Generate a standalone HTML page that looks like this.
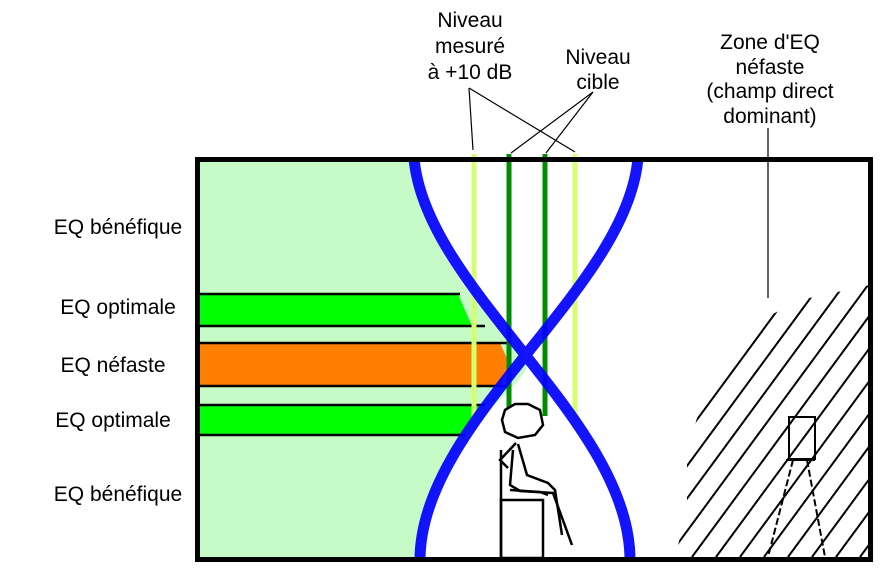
<!DOCTYPE html>
<html><head><meta charset="utf-8"><style>
body{margin:0;background:#fff}
svg{display:block}
text{font-family:"Liberation Sans",sans-serif;font-size:21px;fill:#000}
</style></head><body>
<svg width="891" height="585" viewBox="0 0 891 585" xmlns="http://www.w3.org/2000/svg">
<defs>
<clipPath id="hc"><polygon points="700,408 767,317 800,300 870,285 870,557 675,557 687,510 687,452"/></clipPath>
</defs>
<path d="M196,158 L414,158 C425,280 525,340 527,365 C525,390 425,440 420,560 L196,560 Z" fill="#c6fac6"/>
<polygon points="196,294 458,294 472,326 196,326" fill="#00ff00"/>
<polygon points="196,343 500,343 510,365 500,386 196,386" fill="#ff8000"/>
<polygon points="196,405 480,405 462,435 196,435" fill="#00ff00"/>
<g stroke="#000" stroke-width="2.5">
<line x1="196" y1="294" x2="460" y2="294"/>
<line x1="196" y1="326" x2="485" y2="326"/>
<line x1="196" y1="343" x2="510" y2="343"/>
<line x1="196" y1="386" x2="510" y2="386"/>
<line x1="196" y1="405" x2="485" y2="405"/>
<line x1="196" y1="435" x2="465" y2="435"/>
</g>
<g stroke-width="5">
<line x1="474" y1="154" x2="474" y2="420" stroke="#d4ff70"/>
<line x1="575" y1="154" x2="575" y2="420" stroke="#d4ff70"/>
<line x1="509" y1="154" x2="509" y2="423" stroke="#008c00"/>
<line x1="545" y1="154" x2="545" y2="416" stroke="#008c00"/>
</g>
<g fill="none" stroke="#0000ff" stroke-width="11" opacity="0.92">
<path d="M414,158 C425,290 630,420 630,560"/>
<path d="M638,158 C627,290 420,420 420,560"/>
</g>
<g fill="none" stroke="#000" stroke-width="2.5">
<polygon points="505,410 515,404 528,404 540,410 543,425 535,435 518,438 505,432 502,420" fill="#fff"/>
<polyline points="516,443 500,460 508,468"/>
<polyline points="518,444 527,475 548,483 555,490 562,535"/>
<polyline points="513,450 510,485 520,491 553,493 572,545"/>
<polyline points="510,490 540,492 548,495"/>
<line x1="501" y1="450" x2="501" y2="558"/>
<rect x="501" y="500" width="42" height="58"/>
</g>
<g stroke="#000" stroke-width="2" clip-path="url(#hc)" id="hatch"></g>
<g fill="none" stroke="#000" stroke-width="2">
<rect x="789" y="417" width="26" height="42"/>
<line x1="786" y1="460" x2="815" y2="460"/>
<line x1="793" y1="460" x2="768" y2="557" stroke-dasharray="7,3"/>
<line x1="807" y1="460" x2="825" y2="557" stroke-dasharray="7,3"/>
</g>
<rect x="197.5" y="159.5" width="673" height="400" fill="none" stroke="#000" stroke-width="5"/>
<g stroke="#000" stroke-width="1.2">
<line x1="469" y1="88" x2="473" y2="150"/>
<line x1="469" y1="88" x2="575" y2="152"/>
<line x1="593" y1="92" x2="511" y2="153"/>
<line x1="593" y1="92" x2="546" y2="153"/>
<line x1="768" y1="128" x2="768" y2="298"/>
</g>
<g text-anchor="middle">
<text x="470" y="27">Niveau</text>
<text x="470" y="53">mesuré</text>
<text x="470" y="79">à +10 dB</text>
<text x="598" y="64">Niveau</text>
<text x="598" y="89">cible</text>
<text x="770" y="49">Zone d'EQ</text>
<text x="770" y="74">néfaste</text>
<text x="770" y="98">(champ direct</text>
<text x="770" y="123">dominant)</text>
<text x="118" y="234">EQ bénéfique</text>
<text x="118" y="314">EQ optimale</text>
<text x="113" y="372">EQ néfaste</text>
<text x="113" y="427">EQ optimale</text>
<text x="118" y="501">EQ bénéfique</text>
</g>
</svg>
<script>
var g=document.getElementById('hatch'),s='';
for(var c=500;c<=880;c+=24){
 var x1=c,y1=557,x2=c+300,y2=557-1.36*300;
 s+='<line x1="'+x1+'" y1="'+y1+'" x2="'+x2+'" y2="'+y2+'"/>';
}
g.innerHTML=s;
</script>
</body></html>
